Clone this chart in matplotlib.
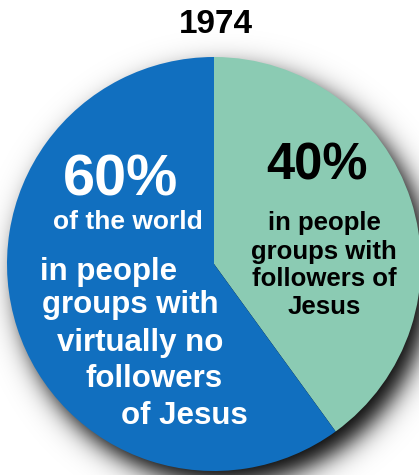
import numpy as np
import matplotlib.pyplot as plt

# data
title = "1974"
shares = [40, 60]  # with followers, virtually none
wedge_colors = ["#8bcbb3", "#116fbf"]
big_labels = ["40%", "60%"]
sub_label = "of the world"
green_lines = ["in people", "groups with", "followers of", "Jesus"]
blue_lines = ["in people", "groups with", "virtually no", "followers", "of Jesus"]

W, H = 419, 475
cx, cy, r = 214, H - 264, 207
font = "Liberation Sans"

fig = plt.figure(figsize=(W / 100, H / 100), dpi=100, facecolor="white")
ax = fig.add_axes([0, 0, 1, 1])

# soft drop shadow under the pie
yy, xx = np.mgrid[0:H, 0:W] + 0.5
d = np.hypot(xx - (cx + 10), (H - yy) - (cy - 13))
shadow = np.zeros((H, W, 4))
shadow[..., 3] = 1.0 / (1 + np.exp((d - r) / 7.5))
ax.imshow(shadow, extent=(0, W, 0, H), origin="upper", zorder=0)

ax.pie(shares, colors=wedge_colors, startangle=90, counterclock=False,
       radius=r, center=(cx, cy), wedgeprops=dict(linewidth=0, zorder=1))

ax.set_xlim(0, W)
ax.set_ylim(0, H)
ax.set_aspect("equal")
ax.axis("off")


def put(x, y, s, size, color):
    ax.text(x, H - y, s, fontsize=size, color=color, fontweight="bold",
            family=font, ha="center", va="baseline", zorder=3)


put(216, 33, title, 24, "black")

# green wedge text
put(317, 180, big_labels[0], 36.5, "black")
for s, y in zip(green_lines, [230, 259, 286, 314]):
    put(324, y, s, 18.5, "black")

# blue wedge text
put(120, 195, big_labels[1], 41.5, "white")
put(128, 229, sub_label, 19, "white")
for s, x, y in zip(blue_lines, [109, 130, 140, 154, 184],
                   [280, 313, 351, 387, 424]):
    put(x, y, s, 22.5, "white")

fig.savefig("out.png", dpi=100, facecolor="white")
